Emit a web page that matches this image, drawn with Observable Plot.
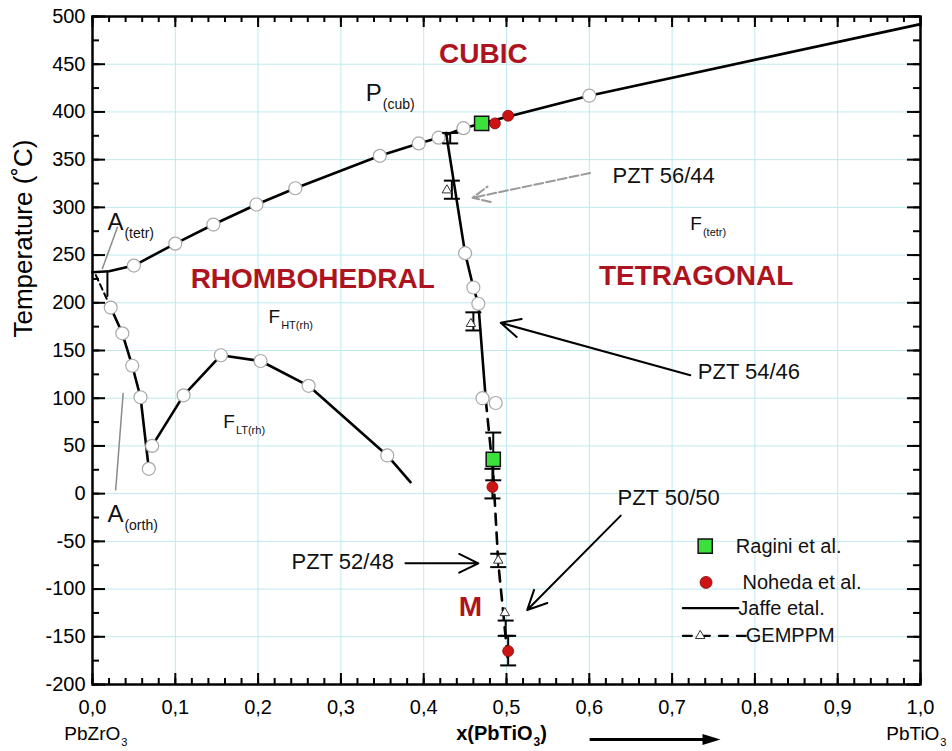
<!DOCTYPE html>
<html><head><meta charset="utf-8">
<script src="https://cdn.jsdelivr.net/npm/d3@7"></script>
<script src="https://cdn.jsdelivr.net/npm/@observablehq/plot@0.6"></script>
<style>
body{margin:0;background:#fff;}
</style></head><body><div id="chart"></div>
<script>
// ---------- data ----------
// Jaffe et al.: Curie line (cubic boundary)
const curieX = [0.0, 0.02, 0.05, 0.10, 0.146, 0.198, 0.245, 0.347, 0.394, 0.418, 0.448, 0.60, 1.0];
const curieT = [232, 233, 239, 262, 282, 303, 320, 354, 367, 373, 383, 417, 492];
// AFE / FE boundary near PbZrO3
const afeX = [0.022, 0.036, 0.048, 0.058, 0.068];
const afeT = [195, 168, 134, 101, 26];
const afeDashX = [0.004, 0.022];
const afeDashT = [229, 195];
const aTetrX = [0.018, 0.018];
const aTetrT = [233, 207];
// F_LT(rh) / F_HT(rh) boundary
const rhX = [0.072, 0.110, 0.155, 0.203, 0.261, 0.356, 0.384];
const rhT = [50, 103, 145, 139, 113, 40, 12];
// Morphotropic phase boundary, Jaffe (solid)
const mpbX = [0.427, 0.450, 0.460, 0.466, 0.475];
const mpbT = [378, 252, 216, 199, 98];
// Morphotropic phase boundary, GEMPPM (dashed)
const gemX = [0.475, 0.484, 0.490, 0.497, 0.502];
const gemT = [98, 20, -72, -133, -178];
// open circles (Jaffe data points)
const circX = [0.05, 0.10, 0.146, 0.198, 0.245, 0.347, 0.394, 0.418, 0.448, 0.60,
               0.022, 0.036, 0.048, 0.058, 0.068,
               0.072, 0.110, 0.155, 0.203, 0.261, 0.356,
               0.450, 0.460, 0.466, 0.471, 0.487];
const circT = [239, 262, 282, 303, 320, 354, 367, 373, 383, 417,
               195, 168, 134, 101, 26,
               50, 103, 145, 139, 113, 40,
               252, 216, 199, 100, 95];
// GEMPPM points with error bars
const triX = [0.428, 0.457, 0.490, 0.498];
const triT = [318, 178, -70, -125];
const errX = [0.432, 0.434, 0.460, 0.484, 0.483, 0.490, 0.499, 0.502];
const errLo = [367, 309, 171, 14, -5, -77, -149, -180];
const errHi = [378, 328, 190, 64, 26, -63, -133, -149];
// Ragini et al. and Noheda et al.
const raginiX = [0.470, 0.484];
const raginiT = [388, 36];
const nohedaX = [0.486, 0.502, 0.483, 0.502];
const nohedaT = [388, 396, 7, -165];
// ticks
const xTicks = [0, 0.1, 0.2, 0.3, 0.4, 0.5, 0.6, 0.7, 0.8, 0.9, 1.0];
const yTicks = [-200, -150, -100, -50, 0, 50, 100, 150, 200, 250, 300, 350, 400, 450, 500];
const xMinor = d3.range(0, 51).map(i => i / 50);
const yMinor = d3.range(0, 29).map(i => -200 + i * 25);
// phase names
const phaseText = ["CUBIC", "RHOMBOHEDRAL", "TETRAGONAL", "M"];
const phaseX = [0.472, 0.266, 0.729, 0.4565];
const phaseT = [461, 225, 228, -119];
// field labels ("|" marks a subscript)
const fieldText = ["P|(cub)", "F|(tetr)", "F|HT(rh)", "F|LT(rh)", "A|(tetr)", "A|(orth)"];
const fieldX = [0.330, 0.722, 0.2126, 0.158, 0.018, 0.018];
const fieldT = [419, 283, 185, 75, 284, -22];
const fieldSize = [24, 19, 19, 19, 24, 24];
// sample labels and arrows
const pztText = ["PZT 56/44", "PZT 54/46", "PZT 50/50"];
const pztX = [0.628, 0.731, 0.634];
const pztT = [333, 127, -4];
const pzt2Text = ["PZT 52/48"];
const pzt2X = [0.364];
const pzt2T = [-72];
const arrowX1 = [0.722, 0.378, 0.638];
const arrowT1 = [124, -73, -23];
const arrowX2 = [0.493, 0.466, 0.525];
const arrowT2 = [179, -73, -122];
const grayArrowX = [0.601, 0.459];
const grayArrowT = [336, 310];
// leader lines for A labels
const leadTetrX = [0.030, 0.012], leadTetrT = [279, 236];
const leadOrthX = [0.037, 0.028], leadOrthT = [105, 4];
// legend
const legendText = ["Ragini et al.", "Noheda et al.", "Jaffe etal.", "GEMPPM"];
const legendX = [0.777, 0.785, 0.780, 0.789];
const legendT = [-55, -93, -120, -149];

// ---------- build ----------
const zip = (xs, ts) => xs.map((x, i) => ({x, T: ts[i]}));
const hLine = {draw(ctx, size) { const r = Math.sqrt(size / Math.PI); ctx.moveTo(-r, 0); ctx.lineTo(r, 0); }};
const triRight = {draw(ctx, size) { const r = Math.sqrt(size / Math.PI); ctx.moveTo(r, 0); ctx.lineTo(-r, -0.6 * r); ctx.lineTo(-r, 0.6 * r); ctx.closePath(); }};
const caps = errX.flatMap((x, i) => [{x, T: errLo[i]}, {x, T: errHi[i]}]);
const errs = errX.map((x, i) => ({x, lo: errLo[i], hi: errHi[i]}));
const W = 952, H = 751, mL = 92, mR = 32, mT = 16, mB = 67;
const pW = W - mL - mR, pH = H - mT - mB;
const red = "#ad1420";
const fontFamily = "'Liberation Sans', Arial, Helvetica, sans-serif";

const chart = Plot.plot({
  width: W, height: H,
  marginLeft: mL, marginRight: mR, marginTop: mT, marginBottom: mB,
  style: {fontFamily, background: "white", color: "black"},
  x: {domain: [0, 1]},
  y: {domain: [-200, 500]},
  marks: [
    Plot.gridX(xTicks.slice(1, -1), {stroke: "#bfe9ef", strokeOpacity: 1, strokeWidth: 1}),
    Plot.gridY(yTicks.slice(1, -1), {stroke: "#bfe9ef", strokeOpacity: 1, strokeWidth: 1}),
    // leader lines
    Plot.line(zip(leadTetrX, leadTetrT), {x: "x", y: "T", stroke: "#8a8a8a", strokeWidth: 1.5}),
    Plot.line(zip(leadOrthX, leadOrthT), {x: "x", y: "T", stroke: "#8a8a8a", strokeWidth: 1.5}),
    // Jaffe lines
    Plot.line(zip(curieX, curieT), {x: "x", y: "T", stroke: "black", strokeWidth: 2.6}),
    Plot.line(zip(afeX, afeT), {x: "x", y: "T", stroke: "black", strokeWidth: 2.6}),
    Plot.line(zip(afeDashX, afeDashT), {x: "x", y: "T", stroke: "black", strokeWidth: 2, strokeDasharray: "6,4"}),
    Plot.line(zip(aTetrX, aTetrT), {x: "x", y: "T", stroke: "black", strokeWidth: 2}),
    Plot.line(zip(rhX, rhT), {x: "x", y: "T", stroke: "black", strokeWidth: 2.6}),
    Plot.line(zip(mpbX, mpbT), {x: "x", y: "T", stroke: "black", strokeWidth: 2.6}),
    Plot.line(zip(gemX, gemT), {x: "x", y: "T", stroke: "black", strokeWidth: 2.6, strokeDasharray: "11,8"}),
    // open circles
    Plot.dot(zip(circX, circT), {x: "x", y: "T", r: 6.5, fill: "white", stroke: "#a8a8a8", strokeWidth: 1.2}),
    // error bars
    Plot.ruleX(errs, {x: "x", y1: "lo", y2: "hi", stroke: "black", strokeWidth: 2}),
    Plot.dot(caps, {x: "x", y: "T", symbol: hLine, r: 8, fill: "none", stroke: "black", strokeWidth: 2}),
    Plot.dot(zip(triX, triT), {x: "x", y: "T", symbol: "triangle", r: 3.5, fill: "white", stroke: "#333", strokeWidth: 1}),
    // Ragini & Noheda
    Plot.dot(zip(nohedaX, nohedaT), {x: "x", y: "T", r: 5.5, fill: "#cc1414", stroke: "#8a0a0a", strokeWidth: 0.8}),
    Plot.dot(zip(raginiX, raginiT), {x: "x", y: "T", symbol: "square", r: 8, fill: "#3be03b", stroke: "#111", strokeWidth: 1.5}),
    // arrows
    Plot.arrow([{x1: grayArrowX[0], y1: grayArrowT[0], x2: grayArrowX[1], y2: grayArrowT[1]}],
      {x1: "x1", y1: "y1", x2: "x2", y2: "y2", stroke: "#9a9a9a", strokeWidth: 2, headLength: 14, headAngle: 50, strokeDasharray: "9,3"}),
    Plot.arrow(arrowX1.map((x, i) => ({x1: x, y1: arrowT1[i], x2: arrowX2[i], y2: arrowT2[i]})),
      {x1: "x1", y1: "y1", x2: "x2", y2: "y2", stroke: "black", strokeWidth: 2, headLength: 16, headAngle: 52}),
    // texts
    Plot.text(phaseText, {x: (d, i) => phaseX[i], y: (d, i) => phaseT[i], text: d => d, fill: red, fontWeight: "bold", fontSize: 28}),
    Plot.text(fieldText, {x: (d, i) => fieldX[i], y: (d, i) => fieldT[i], text: d => d, textAnchor: "start", fontSize: (d, i) => fieldSize[i], fill: "#111"}),
    Plot.text(pztText, {x: (d, i) => pztX[i], y: (d, i) => pztT[i], text: d => d, textAnchor: "start", fontSize: 22, fill: "#111"}),
    Plot.text(pzt2Text, {x: (d, i) => pzt2X[i], y: (d, i) => pzt2T[i], text: d => d, textAnchor: "end", fontSize: 22, fill: "#111"}),
    // legend
    Plot.dot([0], {x: () => 0.740, y: () => legendT[0], symbol: "square", r: 8, fill: "#3be03b", stroke: "#111", strokeWidth: 1.5}),
    Plot.dot([0], {x: () => 0.741, y: () => legendT[1], r: 6, fill: "#cc1414", stroke: "#8a0a0a", strokeWidth: 0.8}),
    Plot.line([{x: 0.713, T: legendT[2]}, {x: 0.780, T: legendT[2]}], {x: "x", y: "T", stroke: "black", strokeWidth: 2.2}),
    Plot.line([{x: 0.713, T: legendT[3]}, {x: 0.789, T: legendT[3]}], {x: "x", y: "T", stroke: "black", strokeWidth: 2.2, strokeDasharray: "9,9"}),
    Plot.dot([0], {x: () => 0.734, y: () => legendT[3], symbol: "triangle", r: 3.5, fill: "white", stroke: "#333", strokeWidth: 1}),
    Plot.text(legendText, {x: (d, i) => legendX[i], y: (d, i) => legendT[i], text: d => d, textAnchor: "start", fontSize: 20, fill: "#111"}),
    // frame and inner ticks
    Plot.frame({stroke: "black", strokeWidth: 2.5}),
    Plot.tickX(xMinor, {x: d => d, insetTop: pH - 6, stroke: "black", strokeWidth: 2}),
    Plot.tickX(xTicks, {x: d => d, insetTop: pH - 11, stroke: "black", strokeWidth: 2}),
    Plot.tickX(xMinor, {x: d => d, insetBottom: pH - 6, stroke: "black", strokeWidth: 2}),
    Plot.tickX(xTicks, {x: d => d, insetBottom: pH - 11, stroke: "black", strokeWidth: 2}),
    Plot.tickY(yMinor, {y: d => d, insetRight: pW - 7, stroke: "black", strokeWidth: 2}),
    Plot.tickY(yTicks, {y: d => d, insetRight: pW - 13, stroke: "black", strokeWidth: 2}),
    Plot.tickY(yMinor, {y: d => d, insetLeft: pW - 7, stroke: "black", strokeWidth: 2}),
    Plot.tickY(yTicks, {y: d => d, insetLeft: pW - 13, stroke: "black", strokeWidth: 2}),
    // axes
    Plot.axisX(xTicks, {anchor: "bottom", tickSize: 0, tickPadding: 15, fontSize: 20, label: null,
      tickFormat: d => d.toFixed(1).replace(".", ",")}),
    Plot.axisY(yTicks, {anchor: "left", tickSize: 0, tickPadding: 7, fontSize: 20, label: null,
      tickFormat: d => String(d)}),
    // axis titles
    Plot.text(["Temperature (˚C)"], {frameAnchor: "left", text: d => d, rotate: -90, dx: -69, dy: -13, fontSize: 26}),
    Plot.text(["x(PbTiO|3|)"], {frameAnchor: "bottom", x: () => 0.494, text: d => d, dy: 55, fontSize: 20, fontWeight: "bold"}),
    Plot.text(["PbZrO|3"], {frameAnchor: "bottom", x: () => 0.004, text: d => d, dy: 55, fontSize: 19}),
    Plot.text(["PbTiO|3"], {frameAnchor: "bottom", x: () => 0.995, text: d => d, dy: 55, fontSize: 19}),
    Plot.ruleY([-200], {x1: 0.601, x2: 0.745, dy: 55, stroke: "black", strokeWidth: 3}),
    Plot.dot([0.7476], {x: d => d, frameAnchor: "bottom", dy: 55, symbol: triRight, r: 9, fill: "black", stroke: "none"})
  ]
});

document.getElementById("chart").appendChild(chart);

// subscripts: text segments after "|" (alternating) become subscript tspans
d3.select(chart).selectAll("text").each(function() {
  const t = this.textContent;
  if (!t.includes("|")) return;
  const fs = parseFloat(getComputedStyle(this).fontSize);
  const parts = t.split("|");
  this.textContent = "";
  let shift = 0;
  parts.forEach((p, i) => {
    if (!p) return;
    const ts = d3.select(this).append("tspan").text(p);
    if (i % 2 === 1) {
      shift = Math.round(fs * 0.32);
      ts.attr("font-size", Math.round(fs * 0.58)).attr("dy", shift).attr("dx", 1);
    } else if (shift) {
      ts.attr("dy", -shift);
      shift = 0;
    }
  });
});
</script>
</body></html>
